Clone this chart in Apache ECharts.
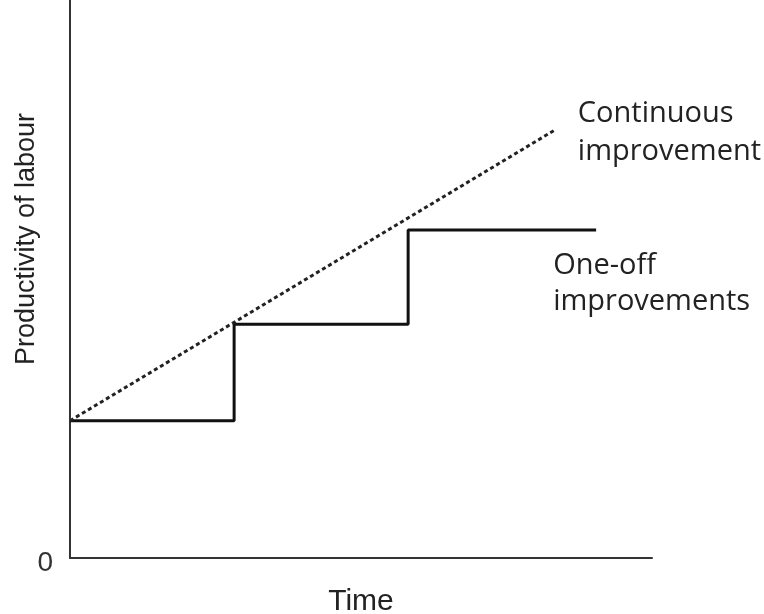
<!DOCTYPE html>
<html>
<head>
<meta charset="utf-8">
<script src="https://cdn.jsdelivr.net/npm/echarts@6/dist/echarts.min.js"></script>
<style>
  html, body { margin: 0; padding: 0; background: #ffffff; }
  #chart { width: 764px; height: 614px; }
</style>
</head>
<body>
<div id="chart"></div>
<script>
// Productivity of labour over time: continuous vs one-off improvements (index, 0-100)
const continuousTimes = [0, 83.3];
const continuousLevels = [24.6, 76.7];

const stepTimes = [0, 28.2, 58.1, 90.4];
const stepLevels = [24.6, 41.9, 58.8, 58.8];

const continuousLabel = 'Continuous\nimprovement';
const stepLabel = 'One-off\nimprovements';
const xTitle = 'Time';
const yTitle = 'Productivity of labour';

const toPairs = (xs, ys) => xs.map((x, i) => [x, ys[i]]);

const chart = echarts.init(document.getElementById('chart'));

chart.setOption({
  animation: false,
  backgroundColor: '#ffffff',
  grid: {
    left: 70, right: 112, top: 0, bottom: 56,
    containLabel: false,
    outerBoundsMode: 'none'
  },
  xAxis: {
    type: 'value',
    min: 0,
    max: 100,
    name: xTitle,
    nameLocation: 'middle',
    nameGap: 29,
    nameTextStyle: { fontFamily: 'Liberation Sans', fontSize: 30, color: '#222' },
    axisLine: { show: true, lineStyle: { color: '#333', width: 2 } },
    axisTick: { show: false },
    axisLabel: { show: false },
    splitLine: { show: false }
  },
  yAxis: {
    type: 'value',
    min: 0,
    max: 100,
    interval: 100,
    axisLine: { show: true, lineStyle: { color: '#333', width: 2 } },
    axisTick: { show: false },
    axisLabel: {
      margin: 17,
      fontFamily: 'Liberation Sans',
      fontSize: 28,
      color: '#333',
      verticalAlign: 'top',
      lineHeight: 10,
      formatter: v => (v === 0 ? '0' : '')
    },
    splitLine: { show: false }
  },
  graphic: [{
    type: 'text',
    x: 27,
    y: 239,
    rotation: Math.PI / 2,
    style: {
      text: yTitle,
      fontFamily: 'Liberation Sans',
      fontSize: 27,
      fill: '#222',
      align: 'center',
      verticalAlign: 'middle'
    }
  }],
  series: [
    {
      name: 'Continuous improvement',
      type: 'line',
      data: toPairs(continuousTimes, continuousLevels),
      showSymbol: false,
      lineStyle: { color: '#222', width: 3, type: [4, 3] },
      endLabel: {
        show: true,
        formatter: continuousLabel,
        distance: 23,
        offset: [0, 3],
        align: 'left',
        fontFamily: 'Open Sans',
        fontSize: 29,
        lineHeight: 38,
        color: '#222'
      },
      z: 3
    },
    {
      name: 'One-off improvements',
      type: 'line',
      step: 'end',
      data: toPairs(stepTimes, stepLevels),
      showSymbol: false,
      lineStyle: { color: '#111', width: 3 },
      endLabel: {
        show: true,
        formatter: stepLabel,
        distance: 0,
        offset: [-43, 54],
        align: 'left',
        fontFamily: 'Open Sans',
        fontSize: 29,
        lineHeight: 36,
        color: '#222'
      },
      z: 2
    }
  ]
});
</script>
</body>
</html>
